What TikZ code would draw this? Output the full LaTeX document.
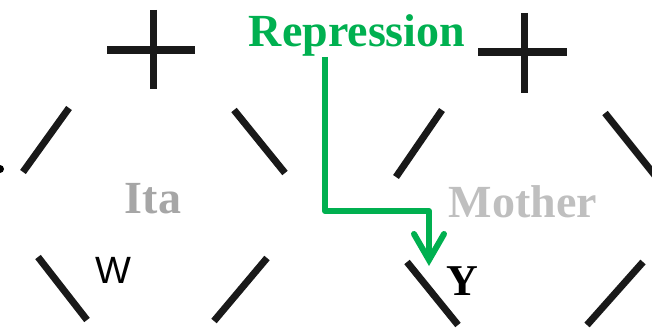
\documentclass[tikz,border=0pt]{standalone}
\usepackage{fontspec}
\setmainfont{Liberation Serif}
\newfontfamily\sansf{Liberation Sans}
\usetikzlibrary{arrows.meta}
\definecolor{repgreen}{HTML}{00B050}
\definecolor{itagray}{HTML}{A6A6A6}
\definecolor{mothergray}{HTML}{BFBFBF}
\tikzset{
  bar/.style={line width=7pt, black!90},
  bigtext/.style={font=\fontsize{46}{50}\selectfont\bfseries, inner sep=0pt, anchor=base},
  conn/.style={repgreen, line width=6pt, line join=round},
  barb/.style={repgreen, line width=6pt, line join=miter, line cap=round}
}
\begin{document}
\begin{tikzpicture}[x=1pt,y=-1pt]
\useasboundingbox (0,0) rectangle (652,329);
% left group
\draw[bar] (107,50) -- (195,50);
\draw[bar] (153,10) -- (153,89);
\draw[bar] (23,172) -- (69,108);
\draw[bar] (234,110) -- (285,173);
\draw[bar] (38,257) -- (87,320);
\draw[bar] (214,321) -- (267,258);
\fill[black] (0,169) circle (4);
% right group
\draw[bar] (478,52) -- (567,52);
\draw[bar] (524,13) -- (524,93);
\draw[bar] (396,177) -- (442,110);
\draw[bar] (605,113) -- (657,178);
\draw[bar] (407,262) -- (458,325);
\draw[bar] (587,325) -- (643,262);
% texts
\node[bigtext, itagray] (ita) at (153,213) {Ita};
\node[bigtext, mothergray] (mother) at (523,217) {Mother};
\node[bigtext, repgreen] (rep) at (357,47) {Repression};
\node[inner sep=0pt, anchor=base, font=\sansf\fontsize{38}{40}\selectfont] (w) at (113,283) {W};
\node[bigtext, font=\fontsize{44}{48}\selectfont\bfseries] (y) at (462,295) {Y};
\coordinate (tip) at (429,260);
\draw[conn] (rep.south west -| 325,58) -- (325,211) -- (429,211) -- (tip);
\draw[barb] ([shift={(-15,-26)}]tip) -- (tip) -- ([shift={(15,-26)}]tip);
\end{tikzpicture}
\end{document}
